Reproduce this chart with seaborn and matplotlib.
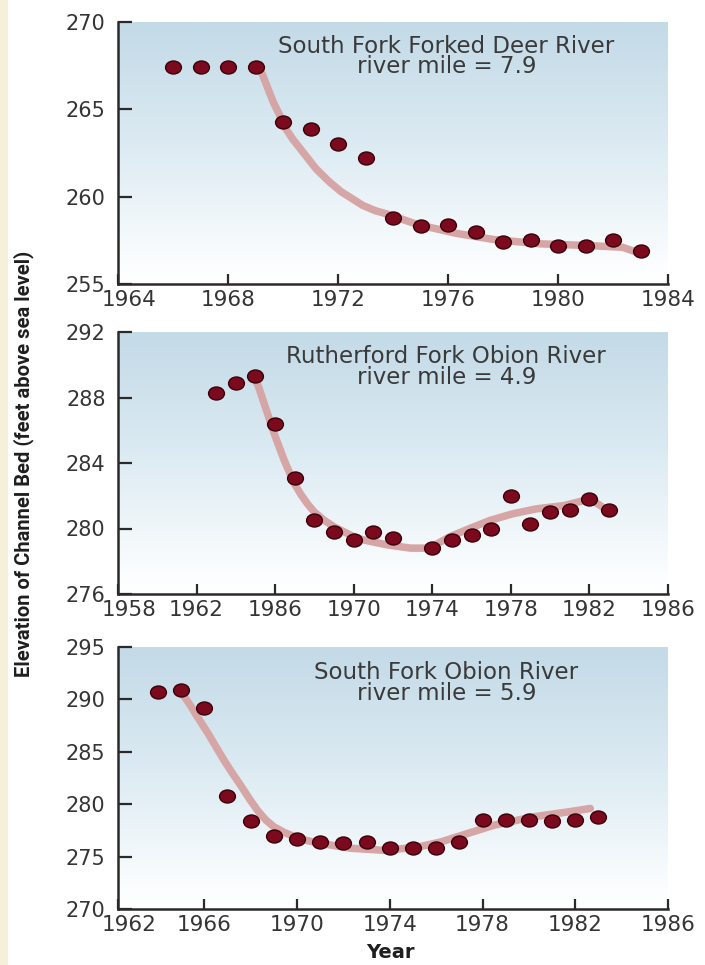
import numpy as np
import matplotlib
matplotlib.use("Agg")
import matplotlib.pyplot as plt
from matplotlib import font_manager
from matplotlib.path import Path
from matplotlib.patches import Rectangle
from matplotlib.transforms import Affine2D, ScaledTranslation
from matplotlib.colors import LinearSegmentedColormap
import seaborn as sns

# ---------------------------------------------------------------------------
# Channel-bed elevation surveys (feet above sea level)
# ---------------------------------------------------------------------------
# South Fork Forked Deer River, river mile 7.9
deer_years = [1966, 1967, 1968, 1969, 1970, 1971, 1972, 1973, 1974, 1975,
              1976, 1977, 1978, 1979, 1980, 1981, 1982, 1983]
deer_elev = [267.4, 267.4, 267.4, 267.4, 264.3, 263.9, 263.0, 262.2, 258.8, 258.3,
             258.4, 258.0, 257.4, 257.5, 257.2, 257.2, 257.5, 256.9]
deer_trend_years = [1969.2, 1969.4, 1969.65, 1969.9, 1970.1, 1970.35, 1970.6, 1970.9,
                    1971.2, 1971.65, 1972.1, 1972.5, 1972.9, 1973.35, 1973.8,
                    1974.35, 1974.9, 1976.3, 1977.65, 1979.35, 1981.15, 1982.35,
                    1982.9]
deer_trend_elev = [267.2, 266.4, 265.4, 264.6, 263.9, 263.3, 262.8, 262.2,
                   261.6, 260.9, 260.3, 259.9, 259.5, 259.2, 259.0,
                   258.7, 258.4, 257.9, 257.55, 257.3, 257.2, 257.1,
                   256.8]

# Rutherford Fork Obion River, river mile 4.9
ruth_years = [1963, 1964, 1965, 1966, 1967, 1968, 1969, 1970, 1971, 1972,
              1974, 1975, 1976, 1977, 1978, 1979, 1980, 1981, 1982, 1983]
ruth_elev = [288.3, 288.9, 289.3, 286.4, 283.1, 280.5, 279.8, 279.3, 279.8, 279.4,
             278.8, 279.3, 279.6, 280.0, 282.0, 280.3, 281.0, 281.1, 281.8, 281.1]
ruth_trend_years = [1964.95, 1965.2, 1965.45, 1965.95, 1966.45, 1966.95, 1967.3,
                    1967.65, 1968.0, 1968.5, 1969.0, 1969.5, 1970.0, 1970.5, 1971.7,
                    1972.9, 1973.9, 1974.3, 1974.9, 1975.9, 1976.95, 1978.1, 1979.3,
                    1980.7, 1981.7, 1982.3, 1982.8]
ruth_trend_elev = [289.3, 288.5, 287.6, 285.8, 284.2, 282.8, 282.1,
                   281.5, 281.0, 280.5, 280.1, 279.8, 279.5, 279.3, 279.0,
                   278.8, 278.8, 279.1, 279.5, 280.0, 280.5, 280.9, 281.2,
                   281.4, 281.7, 281.6, 281.2]

# South Fork Obion River, river mile 5.9
sfo_years = [1964, 1965, 1966, 1967, 1968, 1969, 1970, 1971, 1972, 1973,
             1974, 1975, 1976, 1977, 1978, 1979, 1980, 1981, 1982, 1983]
sfo_elev = [290.7, 290.9, 289.2, 280.8, 278.4, 277.0, 276.7, 276.4, 276.3, 276.4,
            275.8, 275.8, 275.8, 276.4, 278.5, 278.5, 278.5, 278.4, 278.5, 278.8]
sfo_trend_years = [1965.1, 1965.35, 1965.6, 1966.15, 1966.5, 1966.85, 1967.2, 1967.6,
                   1967.95, 1968.3, 1968.65, 1969.0, 1969.45, 1969.9, 1970.4, 1970.9,
                   1972.3, 1973.75, 1975.2, 1976.2, 1977.35, 1978.5, 1980.2, 1981.8,
                   1982.65]
sfo_trend_elev = [290.4, 289.6, 288.7, 286.8, 285.5, 284.2, 283.0, 281.7,
                  280.5, 279.4, 278.5, 277.85, 277.3, 276.9, 276.55, 276.3,
                  275.8, 275.6, 275.9, 276.4, 277.2, 278.0, 278.8, 279.3,
                  279.6]

# Station names and axis ticks
titles = ["South Fork Forked Deer River", "Rutherford Fork Obion River",
          "South Fork Obion River"]
river_miles = ["river mile = 7.9", "river mile = 4.9", "river mile = 5.9"]
deer_yticks = [255, 260, 265, 270]
ruth_yticks = [276, 280, 284, 288, 292]
sfo_yticks = [270, 275, 280, 285, 290, 295]
deer_xticks = [1964, 1968, 1972, 1976, 1980, 1984]
deer_xlabels = ["1964", "1968", "1972", "1976", "1980", "1984"]
ruth_xticks = [1958, 1962, 1966, 1970, 1974, 1978, 1982, 1986]
ruth_xlabels = ["1958", "1962", "1986", "1970", "1974", "1978", "1982", "1986"]
sfo_xticks = [1962, 1966, 1970, 1974, 1978, 1982, 1986]
sfo_xlabels = ["1962", "1966", "1970", "1974", "1978", "1982", "1986"]

# ---------------------------------------------------------------------------
sns.set_style("ticks")
plt.rcParams["font.family"] = ["DejaVu Sans"]

available = {f.name for f in font_manager.fontManager.ttflist}
if "Liberation Sans Narrow" in available:
    ylab_kw = dict(family=["Liberation Sans Narrow", "DejaVu Sans"], fontsize=16.5)
elif "DejaVu Sans Condensed" in available:
    ylab_kw = dict(family=["DejaVu Sans Condensed", "DejaVu Sans"], fontsize=13.5)
else:
    ylab_kw = dict(family=["Roboto", "DejaVu Sans"], fontsize=14.5)

fig = plt.figure(figsize=(7.05, 9.65), dpi=100)
fig.patch.set_facecolor("white")
fig.patches.append(Rectangle((0, 0), 8 / 705, 1, transform=fig.transFigure,
                             facecolor="#f6efd9", edgecolor="none", zorder=0))

left, width, height = 118 / 705, 550 / 705, 262 / 965
bottoms = [1 - 284 / 965, 1 - 594 / 965, 1 - 909 / 965]
label_y = [0.868, 0.866, 0.863]

panels = [
    dict(x=deer_years, y=deer_elev, tx=deer_trend_years, ty=deer_trend_elev,
         yticks=deer_yticks, xticks=deer_xticks, xlabels=deer_xlabels,
         xlim=(1964, 1984)),
    dict(x=ruth_years, y=ruth_elev, tx=ruth_trend_years, ty=ruth_trend_elev,
         yticks=ruth_yticks, xticks=ruth_xticks, xlabels=ruth_xlabels,
         xlim=(1958, 1986)),
    dict(x=sfo_years, y=sfo_elev, tx=sfo_trend_years, ty=sfo_trend_elev,
         yticks=sfo_yticks, xticks=sfo_xticks, xlabels=sfo_xlabels,
         xlim=(1962.28, 1986)),
]

sky = LinearSegmentedColormap.from_list(
    "sky", [(0.0, "#ffffff"), (0.08, "#fbfdfe"), (0.55, "#dbeaf2"), (1.0, "#c3dae7")])
grad = np.linspace(0, 1, 256).reshape(-1, 1)

dot = Path.unit_circle().transformed(Affine2D().scale(1.0, 0.82))
dot_color = "#7b0a1e"
trend_color = "#d6a6a6"
ink = "#2a2a2a"
label_ink = "#353535"

for i, p in enumerate(panels):
    ax = fig.add_axes([left, bottoms[i], width, height])
    ax.imshow(grad, extent=[0, 1, 0, 1], transform=ax.transAxes, origin="lower",
              aspect="auto", cmap=sky, zorder=0, interpolation="bilinear")

    sns.lineplot(x=p["tx"], y=p["ty"], ax=ax, color=trend_color, linewidth=5.4,
                 sort=False, estimator=None, solid_capstyle="round",
                 solid_joinstyle="round", zorder=2)
    sns.scatterplot(x=p["x"], y=p["y"], ax=ax, marker=dot, s=130, color=dot_color,
                    edgecolor="#3b0008", linewidth=1.0, zorder=3)

    ax.set_xlim(*p["xlim"])
    ax.set_ylim(p["yticks"][0], p["yticks"][-1])
    ax.set_yticks(p["yticks"])
    ax.set_yticklabels([str(v) for v in p["yticks"]])
    xt = list(p["xticks"])
    xt[0] = max(xt[0], p["xlim"][0])
    ax.set_xticks(xt)
    ax.set_xticklabels(p["xlabels"])
    ax.set_xlabel("")
    ax.set_ylabel("")
    ax.set_facecolor("none")

    for side in ("top", "right"):
        ax.spines[side].set_visible(False)
    for side in ("left", "bottom"):
        ax.spines[side].set_linewidth(1.8)
        ax.spines[side].set_color(ink)
        ax.spines[side].set_zorder(4)

    ax.tick_params(axis="y", direction="in", length=10, width=1.6, color=ink,
                   labelsize=15, labelcolor=label_ink, pad=9)
    ax.tick_params(axis="x", direction="in", length=7, width=1.6, color=ink,
                   labelsize=15.5, labelcolor=label_ink, pad=4)

    first = ax.xaxis.get_major_ticks()[0].label1
    first.set_transform(first.get_transform() +
                        ScaledTranslation(0.11, 0, fig.dpi_scale_trans))

    # station name with its river mile on the line below
    ax.text(0.597, label_y[i], titles[i] + "\n" + river_miles[i],
            transform=ax.transAxes, ha="center", va="center",
            multialignment="center", linespacing=0.86,
            fontsize=16.5, color="#3a3a3a", zorder=5)

fig.text(23.5 / 705, 1 - 463.5 / 965, "Elevation of Channel Bed (feet above sea level)",
         rotation=90, ha="center", va="center", fontweight="bold", color="#1e1e1e",
         **ylab_kw)
fig.text(390 / 705, 1 - 953 / 965, "Year", ha="center", va="center",
         fontsize=14, fontweight="bold", color="#1e1e1e")

fig.savefig("out.png", dpi=100)
